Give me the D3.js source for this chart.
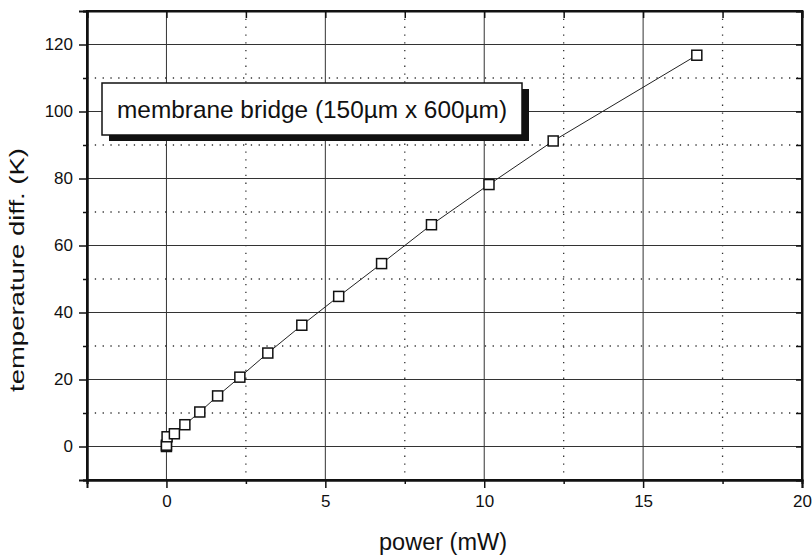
<!DOCTYPE html>
<html>
<head>
<meta charset="utf-8">
<script src="https://cdnjs.cloudflare.com/ajax/libs/d3/7.8.5/d3.min.js"></script>
<style>
  body { margin: 0; background: #fff; }
  text { font-family: "Liberation Sans", Arial, Helvetica, sans-serif; fill: #111; }
</style>
</head>
<body>
<div id="chart-area"></div>
<script>
// data
let powers = [0, 0, 0.02, 0.25, 0.58, 1.05, 1.61, 2.31, 3.19, 4.26, 5.42, 6.77, 8.34, 10.15, 12.17, 16.69];
let temps  = [0, 0.4, 2.9, 3.8, 6.5, 10.3, 15.1, 20.7, 27.9, 36.2, 44.8, 54.6, 66.2, 78.2, 91.2, 116.8];
let xTicks = [0, 5, 10, 15, 20];
let xMinor = [-2.5, 2.5, 7.5, 12.5, 17.5];
let yTicks = [0, 20, 40, 60, 80, 100, 120];
let yMinor = [-10, 10, 30, 50, 70, 90, 110, 130];
let label = "membrane bridge (150\u00b5m x 600\u00b5m)";

let w = 812;
let h = 557;
let pLeft = 87, pRight = 802, pTop = 11, pBottom = 480;

let dataset = powers.map((p, i) => ({ p: p, t: temps[i] }));

let svg = d3.select("#chart-area")
    .append("svg")
    .attr("width", w)
    .attr("height", h);

let xScale = d3.scaleLinear().domain([-2.5, 20]).range([pLeft, pRight]);
let yScale = d3.scaleLinear().domain([-10, 130]).range([pBottom, pTop]);

// grid: solid at major, dotted at minor
let grid = svg.append("g");
grid.selectAll(".vmaj").data(xTicks.filter(d => d < 20)).enter()
    .append("line")
    .attr("x1", d => xScale(d)).attr("x2", d => xScale(d))
    .attr("y1", pTop).attr("y2", pBottom)
    .attr("stroke", "#333").attr("stroke-width", 1);
grid.selectAll(".vmin").data(xMinor.filter(d => d > -2.5)).enter()
    .append("line")
    .attr("x1", d => xScale(d)).attr("x2", d => xScale(d))
    .attr("y1", pTop).attr("y2", pBottom)
    .attr("stroke", "#333").attr("stroke-width", 1.3)
    .attr("stroke-dasharray", "1.3,6.5");
grid.selectAll(".hmaj").data(yTicks).enter()
    .append("line")
    .attr("y1", d => yScale(d)).attr("y2", d => yScale(d))
    .attr("x1", pLeft).attr("x2", pRight)
    .attr("stroke", "#333").attr("stroke-width", 1);
grid.selectAll(".hmin").data(yMinor.filter(d => d > -10 && d < 130)).enter()
    .append("line")
    .attr("y1", d => yScale(d)).attr("y2", d => yScale(d))
    .attr("x1", pLeft).attr("x2", pRight)
    .attr("stroke", "#333").attr("stroke-width", 1.3)
    .attr("stroke-dasharray", "1.3,6.5");

// axes (outer ticks left / bottom, inner ticks top / right)
svg.append("g")
    .attr("transform", "translate(0," + pBottom + ")")
    .call(d3.axisBottom(xScale).tickValues(xTicks).tickSize(8).tickPadding(7));
svg.append("g")
    .attr("transform", "translate(0," + pBottom + ")")
    .call(d3.axisBottom(xScale).tickValues(xMinor).tickSize(4).tickFormat(""));
svg.append("g")
    .attr("transform", "translate(" + pLeft + ",0)")
    .call(d3.axisLeft(yScale).tickValues(yTicks).tickSize(8).tickPadding(6));
svg.append("g")
    .attr("transform", "translate(" + pLeft + ",0)")
    .call(d3.axisLeft(yScale).tickValues(yMinor).tickSize(4).tickFormat(""));
svg.append("g")
    .attr("transform", "translate(0," + pTop + ")")
    .call(d3.axisBottom(xScale).tickValues(xTicks.concat(xMinor)).tickSize(7).tickFormat(""));
svg.append("g")
    .attr("transform", "translate(" + pRight + ",0)")
    .call(d3.axisLeft(yScale).tickValues(yTicks.concat(yMinor)).tickSize(6).tickFormat(""));

svg.selectAll(".domain").attr("stroke", "#111").attr("stroke-width", 2);
svg.selectAll(".tick line").attr("stroke", "#111").attr("stroke-width", 1.5);
svg.selectAll(".tick text")
    .attr("font-size", 17)
    .attr("fill", "#111")
    .attr("font-family", "'Liberation Sans', Arial, sans-serif");

// frame
svg.append("rect")
    .attr("x", pLeft).attr("y", pTop)
    .attr("width", pRight - pLeft).attr("height", pBottom - pTop)
    .attr("fill", "none").attr("stroke", "#111").attr("stroke-width", 2);

// annotation box with drop shadow
let bx = 102, by = 83, bw = 420, bh = 52;
svg.append("rect")
    .attr("x", bx + 7).attr("y", by + 6)
    .attr("width", bw).attr("height", bh)
    .attr("fill", "#111");
svg.append("rect")
    .attr("x", bx).attr("y", by)
    .attr("width", bw).attr("height", bh)
    .attr("fill", "#fff").attr("stroke", "#111").attr("stroke-width", 1.5);
svg.append("text")
    .attr("x", 117).attr("y", 118)
    .attr("font-size", 24.4)
    .text(label);

// data line and markers
let line = d3.line()
    .x(d => xScale(d.p))
    .y(d => yScale(d.t));
svg.append("path")
    .datum(dataset)
    .attr("d", line)
    .attr("fill", "none")
    .attr("stroke", "#222")
    .attr("stroke-width", 1);

svg.selectAll(".pt")
    .data(dataset)
    .enter()
    .append("rect")
    .attr("x", d => xScale(d.p) - 5)
    .attr("y", d => yScale(d.t) - 5)
    .attr("width", 10)
    .attr("height", 10)
    .attr("fill", (d, i) => i === 0 ? "#111" : "#fff")
    .attr("stroke", "#111")
    .attr("stroke-width", 1.5);

// axis titles
svg.append("text")
    .attr("x", 443).attr("y", 550)
    .attr("text-anchor", "middle")
    .attr("font-size", 23.5)
    .text("power (mW)");
svg.append("text")
    .attr("transform", "translate(24,270) rotate(-90)")
    .attr("text-anchor", "middle")
    .attr("font-size", 21)
    .attr("textLength", 244)
    .attr("lengthAdjust", "spacingAndGlyphs")
    .text("temperature diff. (K)");
</script>
</body>
</html>
